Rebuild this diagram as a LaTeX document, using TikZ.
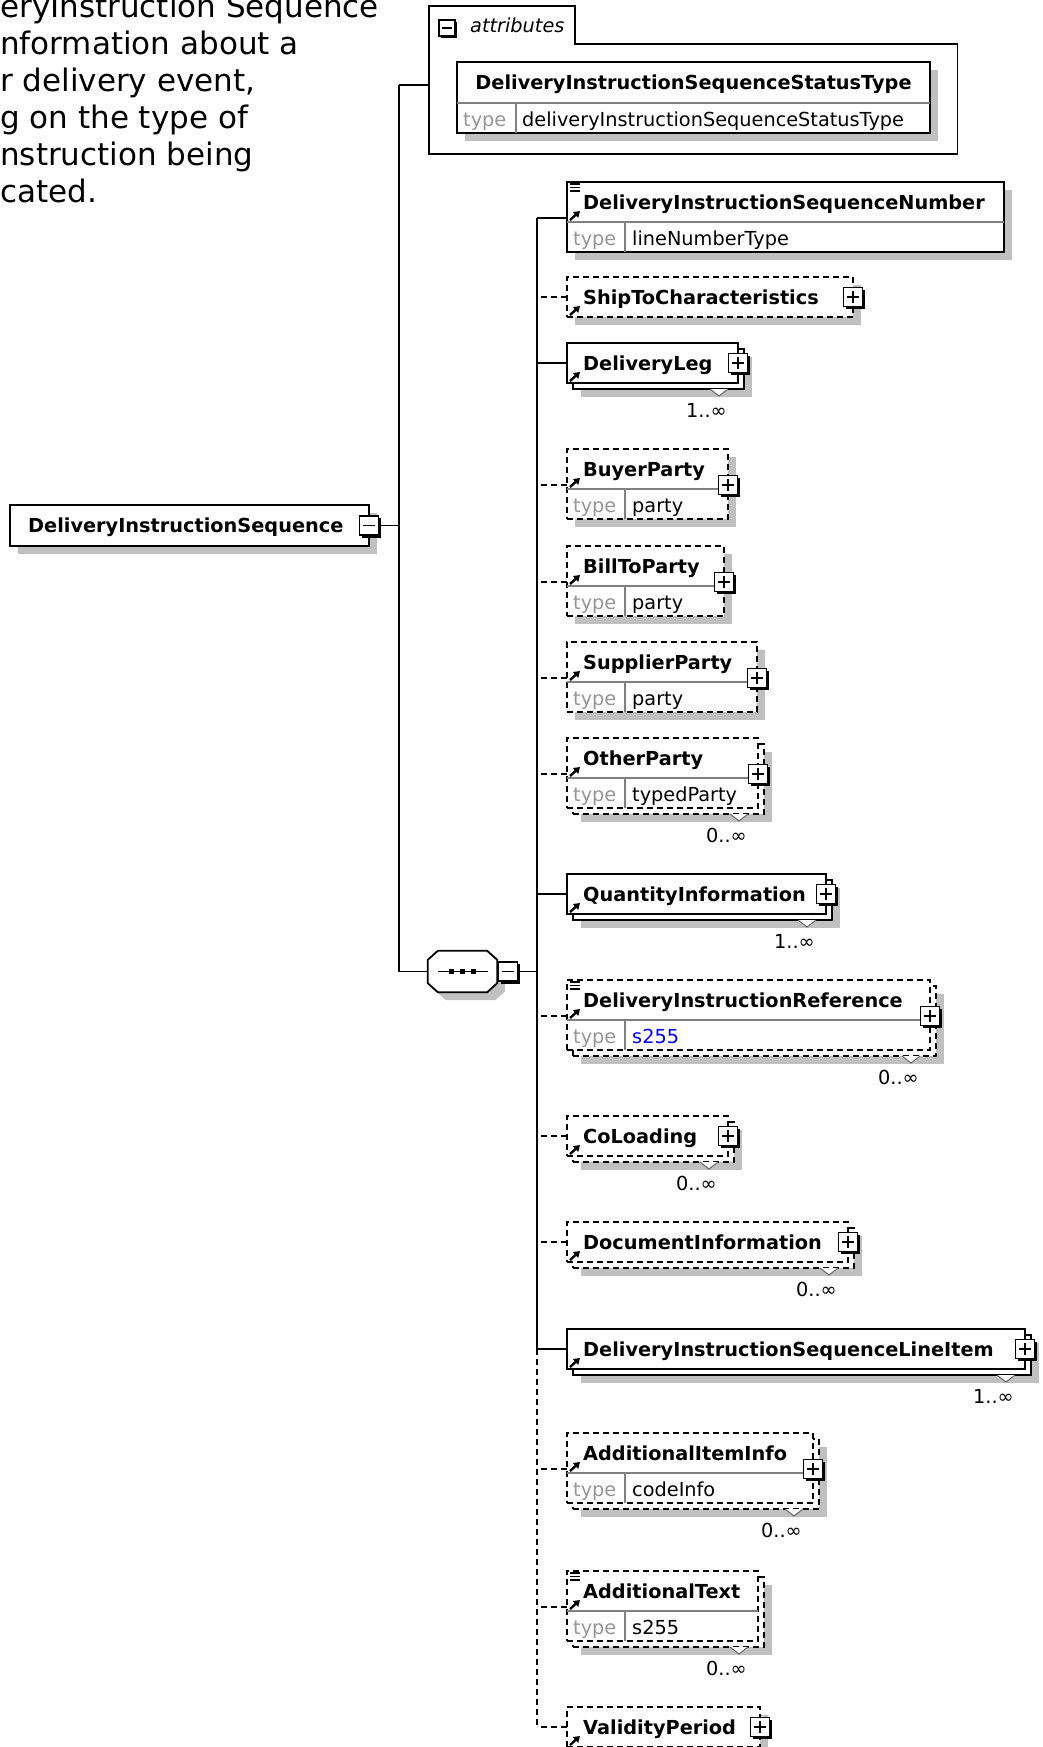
\documentclass[tikz,border=0pt]{standalone}
\usepackage{fontspec}
\setmainfont{DejaVu Sans}
\usetikzlibrary{positioning, shadows, arrows.meta}
\definecolor{shadowgray}{RGB}{192,192,192}
\definecolor{rulegray}{RGB}{128,128,128}
\definecolor{typegray}{RGB}{150,150,150}
\definecolor{refblue}{RGB}{0,0,255}
\tikzset{
    elbox/.style={rectangle, draw=black, line width=1.8pt, fill=white,
                  anchor=north west, inner sep=0pt, outer sep=0pt},
    optbox/.style={elbox, dash pattern=on 6pt off 4pt},
    single/.style={drop shadow={shadow xshift=8pt, shadow yshift=-8pt,
                   opacity=1, fill=shadowgray, draw=none}},
    multi/.style={drop shadow={shadow xshift=14pt, shadow yshift=-14pt,
                  opacity=1, fill=shadowgray, draw=none},
                  copy shadow={shadow xshift=6pt, shadow yshift=-6pt}},
    nametxt/.style={font=\fontsize{19.3pt}{22pt}\selectfont\bfseries,
                    anchor=base west, inner sep=0pt},
    typelbl/.style={font=\fontsize{19.3pt}{22pt}\selectfont, text=typegray,
                    anchor=base west, inner sep=0pt},
    typeval/.style={typelbl, text=black},
    multlbl/.style={typelbl, text=black, anchor=base east},
    desctxt/.style={font=\fontsize{31pt}{37pt}\selectfont,
                    anchor=base west, inner sep=0pt},
    conn/.style={line width=1.8pt, draw=black},
    optconn/.style={conn, dash pattern=on 6pt off 4pt},
    rowline/.style={line width=1.2pt, draw=rulegray},
    notch/.style={fill=white, draw=black!60, line width=1pt},
    minusicon/.pic={
        \fill[black] (-7.5pt,-12pt) rectangle (12pt,7.5pt);
        \filldraw[fill=white, draw=black, line width=1.2pt]
            (-9.5pt,-9.5pt) rectangle (9.5pt,9.5pt);
        \draw[line width=1.4pt] (-6pt,0pt) -- (6pt,0pt);
    },
    plusicon/.pic={
        \fill[black] (-7.5pt,-12pt) rectangle (12pt,7.5pt);
        \filldraw[fill=white, draw=black, line width=1.2pt]
            (-9.5pt,-9.5pt) rectangle (9.5pt,9.5pt);
        \draw[line width=1.4pt] (-6pt,0pt) -- (6pt,0pt)
            (0pt,-6pt) -- (0pt,6pt);
    },
    refarrow/.pic={
        \draw[line width=2.4pt, -{Triangle[length=6pt, width=7.5pt]}]
            (0pt,0pt) -- (10pt,9pt);
    },
    simpleicon/.pic={
        \draw[line width=1.1pt] (0pt,0pt) -- (10pt,0pt)
            (0pt,-3.5pt) -- (10pt,-3.5pt) (0pt,-7pt) -- (10pt,-7pt);
    },
}

\begin{document}
\begin{tikzpicture}[x=1pt, y=-1pt]
    \useasboundingbox (0,0) rectangle (1042,1747);
    \fill[white] (0,0) rectangle (1042,1747);

    % annotation, cut at the left edge
    \node[desctxt] (desc1) at (0,18) {eryInstruction Sequence};
    \node[desctxt] (desc2) at (0,55) {nformation about a};
    \node[desctxt] (desc3) at (0,92) {r delivery event,};
    \node[desctxt] (desc4) at (0,129) {g on the type of};
    \node[desctxt] (desc5) at (0,166) {nstruction being};
    \node[desctxt] (desc6) at (0,203) {cated.};

    % attributes frame
    \node[anchor=north west, inner sep=0pt, minimum width=528pt,
          minimum height=148pt] (attrs) at (429,6) {};
    \draw[conn] (attrs.south west) -- (attrs.north west) -- ++(146,0)
        -- ++(0,38) -| (attrs.south east) -- cycle;
    \pic[scale=0.85] at (447,28) {minusicon};
    \node[nametxt, font=\fontsize{19.3pt}{22pt}\selectfont\itshape]
        (attrs-lbl) at (470,33) {attributes};
    \node[elbox, single, minimum width=473pt, minimum height=71pt]
        (stype) at (457,62) {};
    \draw[rowline] ([yshift=-41pt]stype.north west) -- ([yshift=-41pt]stype.north east)
        ([xshift=59pt, yshift=-41pt]stype.north west) -- ([xshift=59pt]stype.south west);
    \node[nametxt, anchor=base] (stype-name) at ([yshift=-28pt]stype.north)
        {DeliveryInstructionSequenceStatusType};
    \node[typelbl] (stype-type) at ([xshift=6pt, yshift=-65pt]stype.north west) {type};
    \node[typeval] (stype-val) at ([xshift=65pt, yshift=-65pt]stype.north west)
        {deliveryInstructionSequenceStatusType};

    % root element
    \node[elbox, single, minimum width=359pt, minimum height=41pt]
        (seq) at (10,505) {};
    \node[nametxt] (seq-name) at ([xshift=18pt, yshift=-27pt]seq.north west)
        {DeliveryInstructionSequence};

    % trunks
    \coordinate (ltop) at (399,85);
    \coordinate (lbot) at (399,971.5);
    \coordinate (rtop) at (537,218);
    \coordinate (rmid) at (537,1349);
    \coordinate (rbot) at (537,1727);
    \draw[conn] (ltop) -- (lbot);
    \draw[conn] (ltop) -- (attrs.west |- ltop);
    \draw[conn] (seq.east) -- (seq.east -| ltop);
    \pic at (seq.east) {minusicon};
    \draw[conn] (rtop) -- (rmid);
    \draw[optconn] (rmid) -- (rbot);

    % sequence compositor
    \node[inner sep=0pt, minimum width=69pt, minimum height=41pt]
        (seqgrp) at (462.5,971.5) {};
    \filldraw[conn, fill=white, single]
        ([xshift=10pt]seqgrp.north west) -- ([xshift=-10pt]seqgrp.north east)
        -- ([yshift=-9pt]seqgrp.north east) -- ([yshift=9pt]seqgrp.south east)
        -- ([xshift=-10pt]seqgrp.south east) -- ([xshift=10pt]seqgrp.south west)
        -- ([yshift=9pt]seqgrp.south west) -- ([yshift=-9pt]seqgrp.north west) -- cycle;
    \draw[conn] (lbot) -- (seqgrp.west);
    \draw[conn] (seqgrp.east) -- (seqgrp.east -| rtop);
    \draw[line width=1.8pt] ([xshift=10pt]seqgrp.west) -- ([xshift=-9pt]seqgrp.east);
    \foreach \dx in {-11,0,11}
        \fill ([xshift=\dx pt]seqgrp.center) +(-2.8pt,-2.8pt) rectangle +(2.8pt,2.8pt);
    \pic at ([xshift=11pt]seqgrp.east) {minusicon};

    % DeliveryInstructionSequenceNumber
    \node[elbox, single, minimum width=437pt, minimum height=70pt] (seqnum) at (567,182) {};
    \draw[rowline] ([yshift=-40pt]seqnum.north west) -- ([yshift=-40pt]seqnum.north east)
        ([xshift=58pt, yshift=-40pt]seqnum.north west) -- ([xshift=58pt]seqnum.south west);
    \node[nametxt] (seqnum-name) at ([xshift=16pt, yshift=-27pt]seqnum.north west)
        {DeliveryInstructionSequenceNumber};
    \node[typelbl] (seqnum-type) at ([xshift=6pt, yshift=-63pt]seqnum.north west) {type};
    \node[typeval] (seqnum-val) at ([xshift=65pt, yshift=-63pt]seqnum.north west) {lineNumberType};
    \pic at ([xshift=3pt, yshift=-2pt]seqnum.north west) {simpleicon};
    \pic at ([xshift=3pt, yshift=-38pt]seqnum.north west) {refarrow};
    \draw[conn] ([yshift=-36pt]seqnum.north west) -- ++(-30,0);

    % ShipToCharacteristics
    \node[optbox, single, minimum width=286pt, minimum height=40pt] (shipto) at (567,277) {};
    \node[nametxt] (shipto-name) at ([xshift=16pt, yshift=-27pt]shipto.north west)
        {ShipToCharacteristics};
    \pic at ([xshift=3pt, yshift=-38pt]shipto.north west) {refarrow};
    \pic at (shipto.east) {plusicon};
    \draw[optconn] (shipto.west) -- (shipto.west -| rtop);

    % DeliveryLeg
    \node[elbox, multi, minimum width=171pt, minimum height=40pt] (dlvleg) at (567,343) {};
    \filldraw[notch] ([xshift=-28pt, yshift=-6pt]dlvleg.south east)
        -- ([xshift=-19pt, yshift=-13pt]dlvleg.south east)
        -- ([xshift=-10pt, yshift=-6pt]dlvleg.south east);
    \node[nametxt] (dlvleg-name) at ([xshift=16pt, yshift=-27pt]dlvleg.north west) {DeliveryLeg};
    \node[multlbl] (dlvleg-mult) at ([xshift=-11pt, yshift=-34pt]dlvleg.south east) {1..∞};
    \pic at ([xshift=3pt, yshift=-38pt]dlvleg.north west) {refarrow};
    \pic at (dlvleg.east) {plusicon};
    \draw[conn] (dlvleg.west) -- (dlvleg.west -| rtop);

    % BuyerParty
    \node[optbox, single, minimum width=161pt, minimum height=70pt] (buyer) at (567,449) {};
    \draw[rowline] ([yshift=-40pt]buyer.north west) -- ([yshift=-40pt]buyer.north east)
        ([xshift=58pt, yshift=-40pt]buyer.north west) -- ([xshift=58pt]buyer.south west);
    \node[nametxt] (buyer-name) at ([xshift=16pt, yshift=-27pt]buyer.north west) {BuyerParty};
    \node[typelbl] (buyer-type) at ([xshift=6pt, yshift=-63pt]buyer.north west) {type};
    \node[typeval] (buyer-val) at ([xshift=65pt, yshift=-63pt]buyer.north west) {party};
    \pic at ([xshift=3pt, yshift=-38pt]buyer.north west) {refarrow};
    \pic at ([yshift=-36pt]buyer.north east) {plusicon};
    \draw[optconn] ([yshift=-36pt]buyer.north west) -- ++(-30,0);

    % BillToParty
    \node[optbox, single, minimum width=157pt, minimum height=70pt] (billto) at (567,546) {};
    \draw[rowline] ([yshift=-40pt]billto.north west) -- ([yshift=-40pt]billto.north east)
        ([xshift=58pt, yshift=-40pt]billto.north west) -- ([xshift=58pt]billto.south west);
    \node[nametxt] (billto-name) at ([xshift=16pt, yshift=-27pt]billto.north west) {BillToParty};
    \node[typelbl] (billto-type) at ([xshift=6pt, yshift=-63pt]billto.north west) {type};
    \node[typeval] (billto-val) at ([xshift=65pt, yshift=-63pt]billto.north west) {party};
    \pic at ([xshift=3pt, yshift=-38pt]billto.north west) {refarrow};
    \pic at ([yshift=-36pt]billto.north east) {plusicon};
    \draw[optconn] ([yshift=-36pt]billto.north west) -- ++(-30,0);

    % SupplierParty
    \node[optbox, single, minimum width=190pt, minimum height=70pt] (supplier) at (567,642) {};
    \draw[rowline] ([yshift=-40pt]supplier.north west) -- ([yshift=-40pt]supplier.north east)
        ([xshift=58pt, yshift=-40pt]supplier.north west) -- ([xshift=58pt]supplier.south west);
    \node[nametxt] (supplier-name) at ([xshift=16pt, yshift=-27pt]supplier.north west) {SupplierParty};
    \node[typelbl] (supplier-type) at ([xshift=6pt, yshift=-63pt]supplier.north west) {type};
    \node[typeval] (supplier-val) at ([xshift=65pt, yshift=-63pt]supplier.north west) {party};
    \pic at ([xshift=3pt, yshift=-38pt]supplier.north west) {refarrow};
    \pic at ([yshift=-36pt]supplier.north east) {plusicon};
    \draw[optconn] ([yshift=-36pt]supplier.north west) -- ++(-30,0);

    % OtherParty
    \node[optbox, multi, minimum width=191pt, minimum height=70pt] (other) at (567,738) {};
    \draw[rowline] ([yshift=-40pt]other.north west) -- ([yshift=-40pt]other.north east)
        ([xshift=58pt, yshift=-40pt]other.north west) -- ([xshift=58pt]other.south west);
    \filldraw[notch] ([xshift=-28pt, yshift=-6pt]other.south east)
        -- ([xshift=-19pt, yshift=-13pt]other.south east)
        -- ([xshift=-10pt, yshift=-6pt]other.south east);
    \node[nametxt] (other-name) at ([xshift=16pt, yshift=-27pt]other.north west) {OtherParty};
    \node[typelbl] (other-type) at ([xshift=6pt, yshift=-63pt]other.north west) {type};
    \node[typeval] (other-val) at ([xshift=65pt, yshift=-63pt]other.north west) {typedParty};
    \node[multlbl] (other-mult) at ([xshift=-11pt, yshift=-34pt]other.south east) {0..∞};
    \pic at ([xshift=3pt, yshift=-38pt]other.north west) {refarrow};
    \pic at ([yshift=-36pt]other.north east) {plusicon};
    \draw[optconn] ([yshift=-36pt]other.north west) -- ++(-30,0);

    % QuantityInformation
    \node[elbox, multi, minimum width=259pt, minimum height=40pt] (qtyinfo) at (567,874) {};
    \filldraw[notch] ([xshift=-28pt, yshift=-6pt]qtyinfo.south east)
        -- ([xshift=-19pt, yshift=-13pt]qtyinfo.south east)
        -- ([xshift=-10pt, yshift=-6pt]qtyinfo.south east);
    \node[nametxt] (qtyinfo-name) at ([xshift=16pt, yshift=-27pt]qtyinfo.north west) {QuantityInformation};
    \node[multlbl] (qtyinfo-mult) at ([xshift=-11pt, yshift=-34pt]qtyinfo.south east) {1..∞};
    \pic at ([xshift=3pt, yshift=-38pt]qtyinfo.north west) {refarrow};
    \pic at (qtyinfo.east) {plusicon};
    \draw[conn] (qtyinfo.west) -- (qtyinfo.west -| rtop);

    % DeliveryInstructionReference
    \node[optbox, multi, minimum width=363pt, minimum height=70pt] (diref) at (567,980) {};
    \draw[rowline] ([yshift=-40pt]diref.north west) -- ([yshift=-40pt]diref.north east)
        ([xshift=58pt, yshift=-40pt]diref.north west) -- ([xshift=58pt]diref.south west);
    \filldraw[notch] ([xshift=-28pt, yshift=-6pt]diref.south east)
        -- ([xshift=-19pt, yshift=-13pt]diref.south east)
        -- ([xshift=-10pt, yshift=-6pt]diref.south east);
    \node[nametxt] (diref-name) at ([xshift=16pt, yshift=-27pt]diref.north west)
        {DeliveryInstructionReference};
    \node[typelbl] (diref-type) at ([xshift=6pt, yshift=-63pt]diref.north west) {type};
    \node[typeval, text=refblue] (diref-val) at ([xshift=65pt, yshift=-63pt]diref.north west) {s255};
    \node[multlbl] (diref-mult) at ([xshift=-11pt, yshift=-34pt]diref.south east) {0..∞};
    \pic at ([xshift=3pt, yshift=-2pt]diref.north west) {simpleicon};
    \pic at ([xshift=3pt, yshift=-38pt]diref.north west) {refarrow};
    \pic at ([yshift=-36pt]diref.north east) {plusicon};
    \draw[optconn] ([yshift=-36pt]diref.north west) -- ++(-30,0);

    % CoLoading
    \node[optbox, multi, minimum width=161pt, minimum height=40pt] (coload) at (567,1116) {};
    \filldraw[notch] ([xshift=-28pt, yshift=-6pt]coload.south east)
        -- ([xshift=-19pt, yshift=-13pt]coload.south east)
        -- ([xshift=-10pt, yshift=-6pt]coload.south east);
    \node[nametxt] (coload-name) at ([xshift=16pt, yshift=-27pt]coload.north west) {CoLoading};
    \node[multlbl] (coload-mult) at ([xshift=-11pt, yshift=-34pt]coload.south east) {0..∞};
    \pic at ([xshift=3pt, yshift=-38pt]coload.north west) {refarrow};
    \pic at (coload.east) {plusicon};
    \draw[optconn] (coload.west) -- (coload.west -| rtop);

    % DocumentInformation
    \node[optbox, multi, minimum width=281pt, minimum height=40pt] (docinfo) at (567,1222) {};
    \filldraw[notch] ([xshift=-28pt, yshift=-6pt]docinfo.south east)
        -- ([xshift=-19pt, yshift=-13pt]docinfo.south east)
        -- ([xshift=-10pt, yshift=-6pt]docinfo.south east);
    \node[nametxt] (docinfo-name) at ([xshift=16pt, yshift=-27pt]docinfo.north west) {DocumentInformation};
    \node[multlbl] (docinfo-mult) at ([xshift=-11pt, yshift=-34pt]docinfo.south east) {0..∞};
    \pic at ([xshift=3pt, yshift=-38pt]docinfo.north west) {refarrow};
    \pic at (docinfo.east) {plusicon};
    \draw[optconn] (docinfo.west) -- (docinfo.west -| rtop);

    % DeliveryInstructionSequenceLineItem
    \node[elbox, multi, minimum width=458pt, minimum height=40pt] (lineitem) at (567,1329) {};
    \filldraw[notch] ([xshift=-28pt, yshift=-6pt]lineitem.south east)
        -- ([xshift=-19pt, yshift=-13pt]lineitem.south east)
        -- ([xshift=-10pt, yshift=-6pt]lineitem.south east);
    \node[nametxt] (lineitem-name) at ([xshift=16pt, yshift=-27pt]lineitem.north west)
        {DeliveryInstructionSequenceLineItem};
    \node[multlbl] (lineitem-mult) at ([xshift=-11pt, yshift=-34pt]lineitem.south east) {1..∞};
    \pic at ([xshift=3pt, yshift=-38pt]lineitem.north west) {refarrow};
    \pic at (lineitem.east) {plusicon};
    \draw[conn] (lineitem.west) -- (rmid);

    % AdditionalItemInfo
    \node[optbox, multi, minimum width=246pt, minimum height=70pt] (additem) at (567,1433) {};
    \draw[rowline] ([yshift=-40pt]additem.north west) -- ([yshift=-40pt]additem.north east)
        ([xshift=58pt, yshift=-40pt]additem.north west) -- ([xshift=58pt]additem.south west);
    \filldraw[notch] ([xshift=-28pt, yshift=-6pt]additem.south east)
        -- ([xshift=-19pt, yshift=-13pt]additem.south east)
        -- ([xshift=-10pt, yshift=-6pt]additem.south east);
    \node[nametxt] (additem-name) at ([xshift=16pt, yshift=-27pt]additem.north west) {AdditionalItemInfo};
    \node[typelbl] (additem-type) at ([xshift=6pt, yshift=-63pt]additem.north west) {type};
    \node[typeval] (additem-val) at ([xshift=65pt, yshift=-63pt]additem.north west) {codeInfo};
    \node[multlbl] (additem-mult) at ([xshift=-11pt, yshift=-34pt]additem.south east) {0..∞};
    \pic at ([xshift=3pt, yshift=-38pt]additem.north west) {refarrow};
    \pic at ([yshift=-36pt]additem.north east) {plusicon};
    \draw[optconn] ([yshift=-36pt]additem.north west) -- ++(-30,0);

    % AdditionalText
    \node[optbox, multi, minimum width=191pt, minimum height=70pt] (addtext) at (567,1571) {};
    \draw[rowline] ([yshift=-40pt]addtext.north west) -- ([yshift=-40pt]addtext.north east)
        ([xshift=58pt, yshift=-40pt]addtext.north west) -- ([xshift=58pt]addtext.south west);
    \filldraw[notch] ([xshift=-28pt, yshift=-6pt]addtext.south east)
        -- ([xshift=-19pt, yshift=-13pt]addtext.south east)
        -- ([xshift=-10pt, yshift=-6pt]addtext.south east);
    \node[nametxt] (addtext-name) at ([xshift=16pt, yshift=-27pt]addtext.north west) {AdditionalText};
    \node[typelbl] (addtext-type) at ([xshift=6pt, yshift=-63pt]addtext.north west) {type};
    \node[typeval] (addtext-val) at ([xshift=65pt, yshift=-63pt]addtext.north west) {s255};
    \node[multlbl] (addtext-mult) at ([xshift=-11pt, yshift=-34pt]addtext.south east) {0..∞};
    \pic at ([xshift=3pt, yshift=-2pt]addtext.north west) {simpleicon};
    \pic at ([xshift=3pt, yshift=-38pt]addtext.north west) {refarrow};
    \draw[optconn] ([yshift=-36pt]addtext.north west) -- ++(-30,0);

    % ValidityPeriod
    \node[optbox, single, minimum width=193pt, minimum height=40pt] (validity) at (567,1707) {};
    \node[nametxt] (validity-name) at ([xshift=16pt, yshift=-27pt]validity.north west) {ValidityPeriod};
    \pic at ([xshift=3pt, yshift=-38pt]validity.north west) {refarrow};
    \pic at (validity.east) {plusicon};
    \draw[optconn] (validity.west) -- (rbot);
\end{tikzpicture}
\end{document}
